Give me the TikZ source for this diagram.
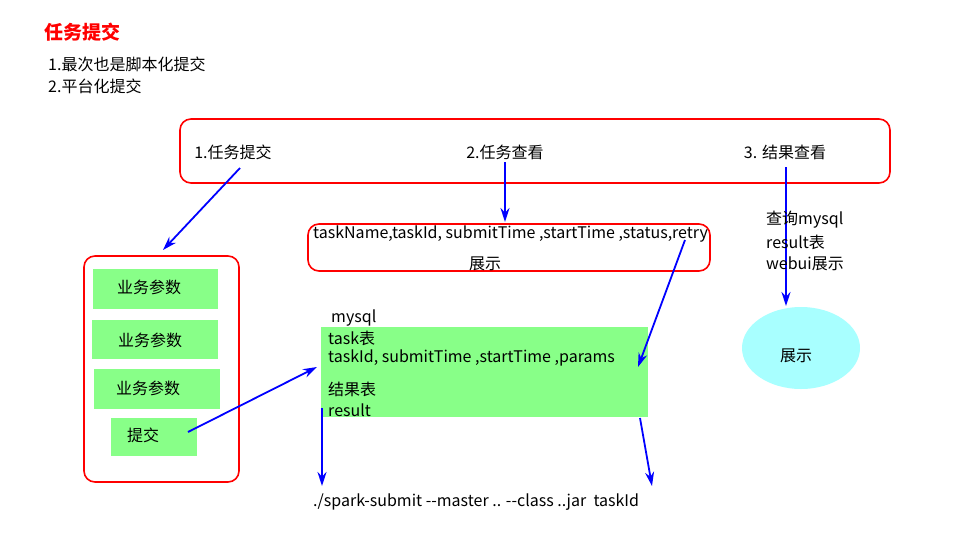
\documentclass[tikz,border=0pt]{standalone}
\usepackage{fontspec}
\setmainfont{Noto Sans CJK SC}
\usetikzlibrary{arrows.meta,shapes.geometric}
\definecolor{boxgreen}{HTML}{88FF88}
\definecolor{ellcyan}{HTML}{A8FFFF}
\tikzset{
  redframe/.style={draw=red,line width=1.6pt,rounded corners=11pt},
  greenbox/.style={fill=boxgreen,draw=none},
  txt/.style={inner sep=0pt,anchor=west,font=\fontsize{16}{18}\selectfont},
  cjk/.style={txt,font=\fontsize{16}{18}\selectfont},
  arr/.style={draw=blue,line width=1.8pt,-{Stealth[length=14pt,width=9pt]}},
}
\begin{document}
\begin{tikzpicture}[x=1pt,y=-1pt]
\useasboundingbox (0,0) rectangle (977,533);
% title and notes
\node[txt,text=red,font=\fontsize{19}{21}\selectfont\bfseries] (title) at (44,32) {任务提交};
\node[cjk] (n1) at (48,64) {1.最次也是脚本化提交};
\node[cjk] (n2) at (48,86) {2.平台化提交};
% top frame
\draw[redframe] (180,119) rectangle (890,183);
\node[cjk,anchor=center] (s1) at (233,152) {1.任务提交};
\node[cjk,anchor=center] (s2) at (505,152) {2.任务查看};
\node[cjk,anchor=center] (s3) at (785,152) {3. 结果查看};
% display frame
\draw[redframe] (308,224) rectangle (710,271);
\node[txt] (fields) at (313,234) {taskName,taskId, submitTime ,startTime ,status,retry};
\node[cjk,anchor=center] (show1) at (485,264) {展示};
% left frame
\draw[redframe] (84,256) rectangle (239,482);
\node[greenbox,minimum width=125pt,minimum height=40pt] (p1) at (155.5,289) {};
\node[greenbox,minimum width=126pt,minimum height=39pt] (p2) at (155,339.5) {};
\node[greenbox,minimum width=126pt,minimum height=40pt] (p3) at (157,389) {};
\node[greenbox,minimum width=86pt,minimum height=38pt] (sub) at (154,437) {};
\node[cjk,anchor=center] at (149,287) {业务参数};
\node[cjk,anchor=center] at (150,340) {业务参数};
\node[cjk,anchor=center] at (148,388) {业务参数};
\node[cjk,anchor=center] (subt) at (143,435) {提交};
% mysql box
\node[greenbox,minimum width=327pt,minimum height=90pt] (db) at (484.5,372) {};
\node[txt] (mysql) at (331,318) {mysql};
\node[txt] (tt) at (328,338) {task表};
\node[txt] (tf) at (328,358) {taskId, submitTime ,startTime ,params};
\node[cjk] (rt) at (328,389) {结果表};
\node[txt] (rs) at (328,410) {result};
% result view
\node[ellipse,fill=ellcyan,minimum width=118pt,minimum height=82pt] (ell) at (801,348) {};
\node[cjk,anchor=center] (show2) at (796,356) {展示};
% command line
\node[txt] (cmd) at (313,502) {./spark-submit -{}-master .. -{}-class ..jar\ \ taskId};
% arrows
\coordinate (a1s) at (240,168);
\coordinate (a1e) at (163,250);
\coordinate (a2s) at (505,162);
\coordinate (a2e) at (505,222);
\coordinate (a3s) at (685,240);
\coordinate (a3e) at (638,367);
\coordinate (a4s) at (188,432);
\coordinate (a4e) at (317,367);
\coordinate (a5s) at (322,408);
\coordinate (a5e) at (322,486);
\coordinate (a6s) at (640,418);
\coordinate (a6e) at (652,486);
\coordinate (a7s) at (786,167);
\coordinate (a7e) at (786,306);
\draw[arr] (a1s) -- (a1e);
\draw[arr] (a2s) -- (a2e);
\draw[arr] (a3s) -- (a3e);
\draw[arr] (a4s) -- (a4e);
\draw[arr] (a5s) -- (a5e);
\draw[arr] (a6s) -- (a6e);
\draw[arr] (a7s) -- (a7e);
% text over the result arrow
\node[txt] (q1) at (766,220) {查询mysql};
\node[txt] (q2) at (766,242) {result表};
\node[txt] (q3) at (766,264) {webui展示};
\end{tikzpicture}
\end{document}
